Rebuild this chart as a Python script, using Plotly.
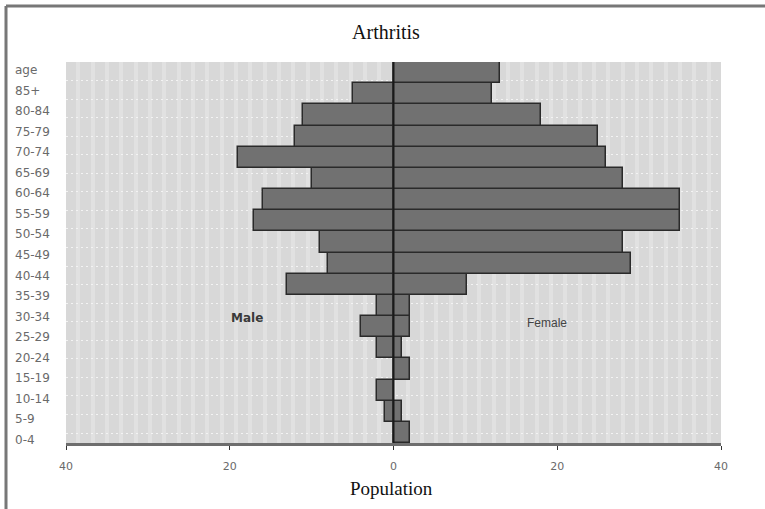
import plotly.graph_objects as go

# ---- data (bars listed bottom to top) ----
age_groups = ["0-4", "5-9", "10-14", "15-19", "20-24", "25-29", "30-34", "35-39",
              "40-44", "45-49", "50-54", "55-59", "60-64", "65-69", "70-74",
              "75-79", "80-84", "85+"]
male = [0, -1, -2, 0, -2, -4, -2, -13, -8, -9, -17, -16, -10, -19, -12, -11, -5, 0]
female = [2, 1, 0, 2, 1, 2, 2, 9, 29, 28, 35, 35, 28, 26, 25, 18, 12, 13]

# row labels of the side table (bottom to top, includes header "age")
row_labels = ["0-4", "5-9", "10-14", "15-19", "20-24", "25-29", "30-34", "35-39",
              "40-44", "45-49", "50-54", "55-59", "60-64", "65-69", "70-74",
              "75-79", "80-84", "85+", "age"]

x_tick_vals = [-40, -20, 0, 20, 40]
x_tick_text = ["40", "20", "0", "20", "40"]

BAR_FILL = "#717171"
BAR_LINE = "#2a2a2a"

fig = go.Figure()
fig.add_trace(go.Bar(y=age_groups, x=male, orientation="h", name="Male",
                     marker=dict(color=BAR_FILL, line=dict(color=BAR_LINE, width=1.5)),
                     showlegend=False))
fig.add_trace(go.Bar(y=age_groups, x=female, orientation="h", name="Female",
                     marker=dict(color=BAR_FILL, line=dict(color=BAR_LINE, width=1.5)),
                     showlegend=False))
# helper invisible traces so the auxiliary axes exist
fig.add_trace(go.Scatter(x=[0], y=[0], yaxis="y2", mode="markers",
                         marker=dict(opacity=0), hoverinfo="skip", showlegend=False))
fig.add_trace(go.Scatter(x=[0], y=[0], yaxis="y3", mode="markers",
                         marker=dict(opacity=0), hoverinfo="skip", showlegend=False))

W, H = 765, 509
L, R, T, B = 66, 44, 62, 66
pw, ph = W - L - R, H - T - B

def px_x(px):
    return (px - L) / pw

def px_y(py):
    return (H - B - py) / ph

annotations = []
for i, lab in enumerate(row_labels):
    annotations.append(dict(text=lab, xref="paper", x=px_x(13), xanchor="left",
                            yref="y2", y=i, yanchor="middle", showarrow=False,
                            font=dict(family="DejaVu Sans", size=12, color="#6a6a6a")))
annotations.append(dict(text="<b>Male</b>", xref="paper", x=px_x(247), xanchor="center",
                        yref="paper", y=px_y(318), yanchor="middle",
                        showarrow=False, font=dict(family="DejaVu Sans", size=12, color="#3a3a3a")))
annotations.append(dict(text="Female", xref="paper", x=px_x(547), xanchor="center",
                        yref="paper", y=px_y(323), yanchor="middle",
                        showarrow=False, font=dict(family="Liberation Sans", size=12, color="#444444")))
annotations.append(dict(text="Population", xref="paper", x=px_x(391), xanchor="center",
                        yref="paper", y=px_y(488), yanchor="middle",
                        showarrow=False, font=dict(family="Liberation Serif", size=19, color="#111111")))

shapes = [
    # center line
    dict(type="line", xref="x", x0=0, x1=0, yref="paper", y0=0, y1=1,
         line=dict(color="#1a1a1a", width=2), layer="above"),
    # frame (left and top)
    dict(type="line", xref="paper", yref="paper", x0=px_x(6), x1=px_x(6),
         y0=px_y(H + 5), y1=px_y(6), line=dict(color="#777777", width=3)),
    dict(type="line", xref="paper", yref="paper", x0=px_x(6), x1=px_x(W + 5),
         y0=px_y(6), y1=px_y(6), line=dict(color="#777777", width=3)),
]

fig.update_layout(
    width=W, height=H,
    margin=dict(l=L, r=R, t=T, b=B, pad=0),
    paper_bgcolor="white",
    plot_bgcolor="#d8d8d8",
    barmode="relative",
    bargap=0,
    title=dict(text="Arthritis", x=px_x(386), xref="paper", xanchor="center",
               y=1 - 32 / H, yanchor="middle",
               font=dict(family="Liberation Serif", size=20, color="#111111")),
    xaxis=dict(range=[-40, 40], tickvals=x_tick_vals, ticktext=x_tick_text,
               showgrid=False, zeroline=False,
               minor=dict(dtick=1.75, tick0=0, showgrid=True, gridcolor="#e1e1e1", gridwidth=4),
               showline=True, linecolor="#6e6e6e", linewidth=3,
               ticks="outside", ticklen=4, tickcolor="#333333", tickwidth=1,
               ticklabelstandoff=7,
               tickfont=dict(family="DejaVu Sans", size=11, color="#6a6a6a"),
               fixedrange=True),
    yaxis=dict(type="category", categoryorder="array", categoryarray=age_groups,
               range=[-0.5, len(age_groups) - 0.5], showticklabels=False,
               showgrid=False, zeroline=False, ticks=""),
    yaxis2=dict(overlaying="y", range=[-0.146, 18.39], showticklabels=False,
                showgrid=False, zeroline=False, ticks=""),
    yaxis3=dict(overlaying="y", range=[-0.539, 20.0], dtick=1, tick0=0,
                showticklabels=False, showgrid=True, gridcolor="#f3f3f3",
                griddash="2px,3px", gridwidth=1, zeroline=False, ticks=""),
    annotations=annotations,
    shapes=shapes,
)

fig.write_html("out.html", config={"displayModeBar": False},
               post_script="document.body.style.margin='0';")
